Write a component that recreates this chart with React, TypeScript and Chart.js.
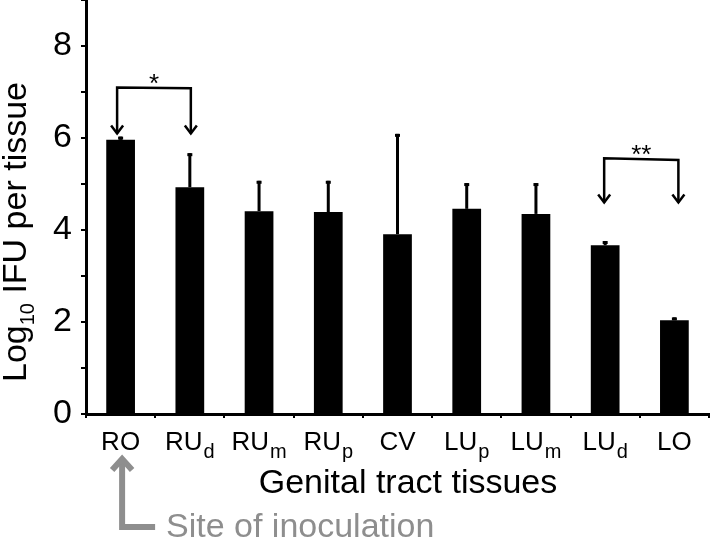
import React, { useEffect, useRef } from "react";
import { Chart, registerables } from "chart.js";

Chart.register(...registerables);

const categories = ["RO", "RUd", "RUm", "RUp", "CV", "LUp", "LUm", "LUd", "LO"];
const labelMain = ["RO", "RU", "RU", "RU", "CV", "LU", "LU", "LU", "LO"];
const labelSub = ["", "d", "m", "p", "", "p", "m", "d", ""];
const meanLog = [5.96, 4.93, 4.41, 4.39, 3.91, 4.46, 4.35, 3.67, 2.04];
const errUpper = [0.07, 0.74, 0.66, 0.68, 2.18, 0.56, 0.67, 0.09, 0.06];
const yTickLabels = ["0", "", "2", "", "4", "", "6", "", "8", ""];

const FONT = "'Liberation Sans', Arial, Helvetica, sans-serif";

const overlayPlugin = {
  id: "overlay",
  afterDatasetsDraw(chart: any) {
    const ctx = chart.ctx as CanvasRenderingContext2D;
    const xs = chart.scales.x;
    const ys = chart.scales.y;
    ctx.save();
    ctx.fillStyle = "#000";
    for (let i = 0; i < meanLog.length; i++) {
      const x = xs.getPixelForValue(i);
      const y0 = ys.getPixelForValue(meanLog[i]);
      const y1 = ys.getPixelForValue(meanLog[i] + errUpper[i]);
      ctx.fillRect(x - 1.5, y1, 3, y0 - y1);
      ctx.fillRect(x - 2.5, y1, 5, 3);
    }
    ctx.restore();
  },
  afterDraw(chart: any) {
    const ctx = chart.ctx as CanvasRenderingContext2D;
    const xs = chart.scales.x;
    const ys = chart.scales.y;
    const area = chart.chartArea;
    ctx.save();
    ctx.fillStyle = "#000";
    ctx.textBaseline = "alphabetic";

    // x tick labels with subscripts
    const mainPx = 26;
    const subPx = 20;
    for (let i = 0; i < categories.length; i++) {
      const cx = xs.getPixelForValue(i);
      ctx.font = `${mainPx}px ${FONT}`;
      const wm = ctx.measureText(labelMain[i]).width;
      ctx.font = `${subPx}px ${FONT}`;
      const wsub = labelSub[i] ? ctx.measureText(labelSub[i]).width + 1 : 0;
      const start = cx - (wm + wsub) / 2;
      ctx.textAlign = "left";
      ctx.font = `${mainPx}px ${FONT}`;
      ctx.fillText(labelMain[i], start, area.bottom + 36);
      if (labelSub[i]) {
        ctx.font = `${subPx}px ${FONT}`;
        ctx.fillText(labelSub[i], start + wm + 1, area.bottom + 44);
      }
    }

    // x title
    ctx.font = `34px ${FONT}`;
    ctx.textAlign = "center";
    ctx.fillText("Genital tract tissues", 408, area.bottom + 79);

    // y title (rotated) with subscript
    ctx.save();
    ctx.translate(26, 232);
    ctx.rotate(-Math.PI / 2);
    const p1 = "Log";
    const p2 = "10";
    const p3 = " IFU per tissue";
    ctx.font = `34px ${FONT}`;
    const w1 = ctx.measureText(p1).width;
    const w3 = ctx.measureText(p3).width;
    ctx.font = `20px ${FONT}`;
    const w2 = ctx.measureText(p2).width;
    let sx = -(w1 + w2 + w3) / 2;
    ctx.textAlign = "left";
    ctx.font = `34px ${FONT}`;
    ctx.fillText(p1, sx, 0);
    sx += w1;
    ctx.font = `20px ${FONT}`;
    ctx.fillText(p2, sx, 8);
    sx += w2;
    ctx.font = `34px ${FONT}`;
    ctx.fillText(p3, sx, 0);
    ctx.restore();

    // significance brackets
    const drawBracket = (i1: number, i2: number, yTopL: number, yTopR: number, yTip: number, dx1: number, dx2: number, star: string) => {
      const xa = xs.getPixelForValue(i1) + dx1;
      const xb = xs.getPixelForValue(i2) + dx2;
      const ya = ys.getPixelForValue(yTopL);
      const yb = ys.getPixelForValue(yTopR);
      const yt = ys.getPixelForValue(yTip);
      ctx.strokeStyle = "#000";
      ctx.lineWidth = 2.5;
      ctx.lineJoin = "miter";
      ctx.beginPath();
      ctx.moveTo(xa, yt);
      ctx.lineTo(xa, ya);
      ctx.lineTo(xb, yb);
      ctx.lineTo(xb, yt);
      ctx.stroke();
      for (const x of [xa, xb]) {
        ctx.beginPath();
        ctx.moveTo(x - 6, yt - 8);
        ctx.lineTo(x, yt);
        ctx.lineTo(x + 6, yt - 8);
        ctx.stroke();
      }
      ctx.font = `26px ${FONT}`;
      ctx.textAlign = "center";
      ctx.fillStyle = "#000";
      ctx.fillText(star, (xa + xb) / 2, Math.min(ya, yb) + 5);
    };
    drawBracket(0, 1, 7.1, 7.08, 6.1, -3.5, 1, "*");
    drawBracket(7, 8, 5.56, 5.52, 4.6, -1, 4, "**");

    // site of inoculation arrow
    const gx = xs.getPixelForValue(0) + 1.5;
    ctx.strokeStyle = "#8e8e8e";
    ctx.fillStyle = "#8e8e8e";
    ctx.lineWidth = 6;
    ctx.lineJoin = "miter";
    ctx.beginPath();
    ctx.moveTo(gx, area.bottom + 44);
    ctx.lineTo(gx, area.bottom + 113);
    ctx.lineTo(gx + 33, area.bottom + 113);
    ctx.stroke();
    ctx.beginPath();
    ctx.moveTo(gx - 10, area.bottom + 56);
    ctx.lineTo(gx, area.bottom + 45);
    ctx.lineTo(gx + 10, area.bottom + 56);
    ctx.stroke();
    ctx.font = `34px ${FONT}`;
    ctx.textAlign = "left";
    ctx.fillText("Site of inoculation", 166, area.bottom + 123);
    ctx.restore();
  },
};

export default function App() {
  const canvasRef = useRef<HTMLCanvasElement | null>(null);

  useEffect(() => {
    document.body.style.margin = "0";
    const canvas = canvasRef.current;
    if (!canvas) return;
    const chart = new Chart(canvas, {
      type: "bar",
      data: {
        labels: categories,
        datasets: [
          {
            label: "Log10 IFU per tissue",
            data: meanLog,
            backgroundColor: "#000",
            borderWidth: 0,
            barPercentage: 0.415,
            categoryPercentage: 1,
          },
        ],
      },
      options: {
        animation: false,
        responsive: false,
        maintainAspectRatio: false,
        layout: { padding: { left: 0, right: 3, top: 0, bottom: 0 } },
        plugins: {
          legend: { display: false },
          tooltip: { enabled: false },
          title: { display: false },
        },
        scales: {
          x: {
            offset: true,
            grid: {
              offset: true,
              drawOnChartArea: false,
              drawTicks: true,
              tickLength: 4,
              color: "#000",
              lineWidth: 2,
            },
            border: { display: true, color: "#000", width: 3 },
            ticks: { display: false },
            afterFit: (scale: any) => {
              scale.height = 131;
            },
          },
          y: {
            min: 0,
            max: 9,
            grid: {
              drawOnChartArea: false,
              drawTicks: true,
              tickLength: 5,
              color: "#000",
              lineWidth: 2,
            },
            border: { display: true, color: "#000", width: 3 },
            ticks: {
              stepSize: 1,
              autoSkip: false,
              padding: 9,
              color: "#000",
              font: (c: any) => ({
                family: FONT,
                size: c.index !== undefined && yTickLabels[c.index] ? 34 : 1,
              }),
              callback: (_v: any, i: number) => yTickLabels[i] ?? "",
            },
            afterFit: (scale: any) => {
              scale.width = 86;
              scale.paddingTop = 0;
              scale.paddingBottom = 0;
            },
          },
        },
      },
      plugins: [overlayPlugin],
    });
    return () => chart.destroy();
  }, []);

  return (
    <div style={{ width: 712, height: 545 }}>
      <canvas ref={canvasRef} width={712} height={545} style={{ display: "block" }} />
    </div>
  );
}
